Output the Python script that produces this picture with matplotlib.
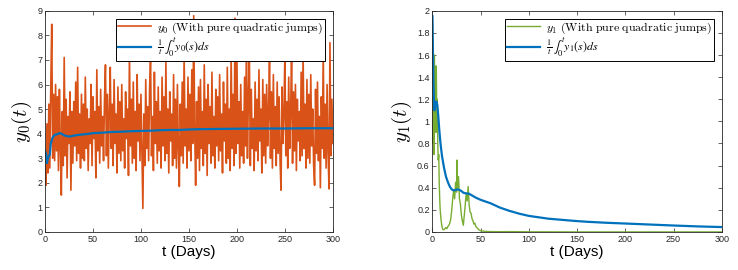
import numpy as np
import matplotlib
matplotlib.use("Agg")
from matplotlib import pyplot as plt
from matplotlib.ticker import FormatStrFormatter

plt.rcParams['mathtext.fontset'] = 'cm'
plt.rcParams['font.family'] = ['Liberation Sans', 'DejaVu Sans']

'''y0 - probka co 1 dzien, odczytana z wykresu'''
t0 = list(range(0, 301))
y0 = [3.2, 1.9, 4.4, 2.4, 5.2, 2.6, 5.9, 8.45, 3.0, 5.6, 2.9, 6.0, 3.3, 5.5, 2.5, 5.8, 3.4, 1.5, 4.9, 2.7,
      7.1, 3.1, 5.4, 2.2, 4.7, 3.6, 5.7, 1.7, 4.9, 2.8, 5.3, 3.5, 6.1, 2.9, 6.7, 3.2, 4.8, 2.6, 5.6, 3.0,
      5.2, 2.9, 6.3, 3.4, 5.0, 2.5, 4.6, 3.6, 6.0, 2.7, 5.5, 3.8, 4.9, 2.2, 6.6, 3.3, 5.1, 2.8, 5.8, 3.5,
      4.7, 2.9, 5.4, 6.8, 3.1, 5.6, 2.6, 4.9, 6.7, 3.4, 5.2, 2.7, 6.2, 3.6, 4.8, 2.4, 5.9, 3.2, 5.3, 2.9,
      6.0, 3.3, 4.6, 2.6, 5.7, 3.8, 5.0, 2.3, 7.3, 3.5, 5.4, 2.8, 6.1, 3.0, 4.9, 2.5, 6.4, 3.7, 5.2, 2.9,
      5.6, 3.2, 0.96, 4.8, 2.7, 6.2, 3.4, 5.1, 2.9, 5.8, 7.2, 3.1, 4.7, 2.5, 6.5, 3.6, 5.3, 2.8, 5.9, 3.3,
      4.9, 2.6, 6.3, 3.5, 5.5, 2.9, 6.9, 3.2, 5.0, 2.4, 5.7, 3.7, 4.8, 2.7, 6.4, 3.0, 5.4, 2.6, 6.0, 3.4,
      1.85, 5.2, 3.1, 6.1, 2.8, 7.2, 3.5, 5.0, 2.6, 6.3, 3.3, 5.6, 2.9, 6.6, 3.6, 8.8, 4.2, 1.9, 5.3, 3.0,
      5.9, 2.5, 6.2, 3.4, 4.9, 2.7, 6.8, 3.2, 5.4, 2.3, 6.0, 3.6, 5.1, 2.8, 6.5, 3.1, 4.7, 2.6, 5.8, 3.5,
      5.5, 2.9, 6.4, 3.3, 4.8, 2.4, 6.1, 3.7, 5.2, 2.8, 6.7, 3.0, 5.0, 2.5, 7.3, 3.4, 5.6, 2.7, 8.7, 3.2,
      7.2, 3.6, 5.3, 2.6, 6.0, 3.1, 4.9, 2.8, 6.3, 3.5, 7.9, 3.0, 5.5, 7.2, 2.7, 5.8, 3.4, 4.6, 2.5, 6.1,
      3.3, 5.4, 2.9, 6.6, 3.7, 5.0, 2.4, 6.2, 3.1, 5.6, 2.8, 6.0, 3.5, 4.8, 7.3, 3.0, 5.7, 2.6, 6.4, 3.4,
      5.1, 2.7, 6.1, 3.2, 5.5, 2.9, 1.7, 5.9, 3.6, 4.8, 7.2, 3.1, 5.3, 2.6, 6.3, 3.4, 4.9, 7.3, 2.8, 5.7,
      3.3, 6.0, 2.5, 5.4, 3.7, 4.9, 2.9, 6.5, 3.1, 7.3, 3.4, 5.2, 2.6, 6.2, 3.0, 5.6, 2.8, 6.4, 3.5, 5.0,
      2.7, 1.9, 5.8, 3.2, 6.1, 2.9, 4.7, 1.8, 5.5, 3.4, 7.3, 3.0, 5.2, 2.6, 6.0, 3.3, 1.75, 7.7, 3.1, 5.4,
      3.6]

'''srednia kroczaca y0'''
t0m = [0, 1, 2, 3, 5, 6, 8, 10, 13, 15, 17, 20, 23, 25, 28, 30, 35, 40, 45, 50, 60, 70, 80, 90,
       100, 110, 120, 130, 140, 150, 160, 175, 200, 225, 250, 275, 300]
y0m = [3.3, 3.2, 2.8, 3.0, 3.15, 3.6, 3.85, 3.95, 3.98, 4.02, 4.0, 3.93, 3.9, 3.88, 3.9, 3.92, 3.95,
       3.97, 3.99, 4.02, 4.04, 4.07, 4.08, 4.10, 4.11, 4.12, 4.14, 4.15, 4.15, 4.17, 4.18, 4.19,
       4.20, 4.21, 4.21, 4.22, 4.22]

'''y1 i jego srednia'''
t1 = [0, 0.5, 1, 1.5, 2, 2.5, 3, 3.5, 4, 4.5, 5, 5.5, 6, 6.5, 7, 7.5, 8, 9, 10, 11, 12, 13, 14, 15,
      16, 17, 18, 19, 20, 21, 22, 23, 24, 25, 25.5, 26, 27, 28, 29, 30, 31, 32, 33, 34, 35, 36, 37,
      38, 39, 40, 41, 42, 43, 44, 45, 46, 48, 50, 55, 60, 70, 80, 90, 100, 150, 300]
y1 = [1.9, 0.8, 1.3, 0.7, 1.6, 1.0, 1.5, 0.9, 1.5, 1.0, 1.2, 0.8, 0.65, 0.7, 0.45, 0.3, 0.2, 0.1,
      0.04, 0.02, 0.02, 0.03, 0.04, 0.03, 0.05, 0.06, 0.08, 0.12, 0.2, 0.3, 0.38, 0.3, 0.45, 0.36,
      0.65, 0.4, 0.5, 0.3, 0.25, 0.15, 0.1, 0.06, 0.15, 0.25, 0.35, 0.28, 0.41, 0.25, 0.18, 0.17,
      0.12, 0.1, 0.07, 0.08, 0.05, 0.04, 0.02, 0.01, 0.005, 0.003, 0.002, 0.003, 0.002, 0.001, 0.0, 0.0]

t1m = [0, 0.5, 1, 1.5, 2, 3, 4, 5, 6, 7, 8, 9, 10, 12, 14, 16, 18, 20, 22, 24, 26, 28, 30, 32, 34,
       36, 38, 40, 45, 50, 60, 70, 80, 90, 100, 120, 140, 150, 160, 180, 200, 225, 250, 275, 300]
y1m = [1.95, 1.6, 1.35, 1.2, 1.1, 1.15, 1.18, 1.15, 1.05, 0.93, 0.83, 0.75, 0.68, 0.58, 0.5, 0.45,
       0.41, 0.385, 0.375, 0.38, 0.385, 0.38, 0.37, 0.355, 0.35, 0.348, 0.345, 0.335, 0.31, 0.29,
       0.26, 0.22, 0.19, 0.165, 0.145, 0.12, 0.105, 0.098, 0.092, 0.083, 0.076, 0.067, 0.058,
       0.05, 0.044]

orange = '#D95319'
blue = '#0072BD'
green = '#77AC30'

fig = plt.figure(figsize=(7.38, 2.70), dpi=100)
ax1 = fig.add_axes([0.061, 0.141, 0.390, 0.819])
ax2 = fig.add_axes([0.586, 0.141, 0.392, 0.819])


def styl(ax, ymax, ystep, ylabel):
    ax.set_xlim(0, 300)
    ax.set_ylim(0, ymax)
    ax.set_xticks(range(0, 301, 50))
    ax.set_yticks(np.round(np.arange(0, ymax + 1e-9, ystep), 2))
    ax.yaxis.set_major_formatter(FormatStrFormatter('%g'))
    ax.tick_params(direction='in', top=True, right=True, labelsize=6.5,
                   length=3, width=0.5, colors='#262626', pad=2)
    for s in ax.spines.values():
        s.set_linewidth(0.6)
        s.set_color('#262626')
    ax.set_xlabel('t (Days)', fontsize=11, labelpad=1)
    ax.set_ylabel(ylabel, fontsize=15, labelpad=2)
    leg = ax.legend(loc='upper right', fontsize=8.6, fancybox=False, framealpha=1,
                    edgecolor='black', borderpad=0.15, handlelength=2.8,
                    borderaxespad=0.65, labelspacing=0.0, handletextpad=0.5)
    leg.get_frame().set_linewidth(0.7)
    '''calka w stix - mniejszy znak calki'''
    leg.get_texts()[1].set_math_fontfamily('stix')


ax1.plot(t0, y0, color=orange, lw=1.2,
         label=r'$y_0\ \mathrm{(With\ pure\ quadratic\ jumps)}$')
ax1.plot(t0m, y0m, color=blue, lw=1.6, label=r'$\frac{1}{t}\,\int_0^t y_0(s)ds$')
styl(ax1, 9, 1, r'$y_0(t)$')

ax2.plot(t1, y1, color=green, lw=1.0,
         label=r'$y_1\ \mathrm{(With\ pure\ quadratic\ jumps)}$')
ax2.plot(t1m, y1m, color=blue, lw=1.6, label=r'$\frac{1}{t}\,\int_0^t y_1(s)ds$')
styl(ax2, 2, 0.2, r'$y_1(t)$')

plt.savefig('out.png', dpi=100)
